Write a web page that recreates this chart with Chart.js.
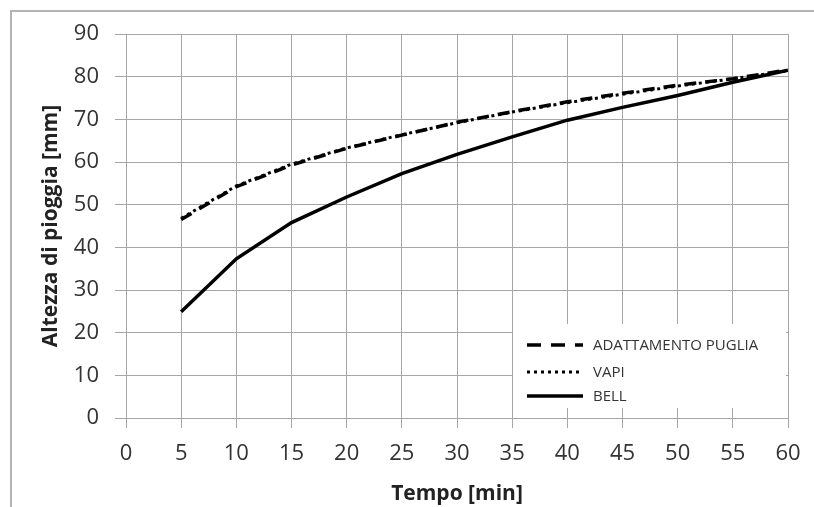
<head>
  <style>
    html, body { margin: 0; padding: 0; background: #fff; overflow: hidden; }
    #frame {
      position: absolute; left: 10px; top: 10px; width: 900px; height: 600px;
      border-left: 2px solid #b4b4b4; border-top: 2px solid #b4b4b4;
    }
    #chart { position: absolute; left: 0; top: 0; }
  </style>
</head>

<body>
  <div id="frame"></div>
  <canvas id="chart" width="814" height="507"></canvas>

  <script src="https://cdn.jsdelivr.net/npm/chart.js"></script>
  <script>
    // durate (min) e altezze di pioggia (mm)
    const tempi = [5, 10, 15, 20, 25, 30, 35, 40, 45, 50, 55, 60];
    const puglia = [46.5, 54.2, 59.3, 63.2, 66.3, 69.3, 71.8, 74.1, 76.1, 78.0, 79.5, 81.6];
    const vapi = [46.8, 54.4, 59.5, 63.3, 66.4, 69.2, 71.7, 73.9, 75.9, 77.8, 79.5, 81.4];
    const bell = [24.9, 37.3, 45.8, 51.8, 57.3, 61.8, 65.9, 69.8, 72.8, 75.6, 78.7, 81.5];
    const nomiSerie = ["ADATTAMENTO PUGLIA", "VAPI", "BELL"];
    const xTicks = [0, 5, 10, 15, 20, 25, 30, 35, 40, 45, 50, 55, 60];
    const yTicks = [0, 10, 20, 30, 40, 50, 60, 70, 80, 90];

    const toPoints = vals => tempi.map((t, i) => ({ x: t, y: vals[i] }));

    const gridGray = "#a6a6a6";
    const textGray = "#333";

    // legenda disegnata dentro l'area del grafico, in basso a destra
    const insideLegend = {
      id: "insideLegend",
      afterDatasetsDraw(chart) {
        const { ctx, chartArea } = chart;
        const boxL = chartArea.right - 275, boxT = chartArea.bottom - 94;
        ctx.save();
        ctx.fillStyle = "#fff";
        ctx.fillRect(boxL, boxT, 273, 84);
        const rows = [boxT + 21, boxT + 48, boxT + 72];
        chart.data.datasets.forEach((ds, i) => {
          ctx.strokeStyle = ds.borderColor;
          ctx.lineWidth = ds.borderWidth;
          ctx.setLineDash(ds.legendDash);
          ctx.lineCap = "butt";
          ctx.beginPath();
          ctx.moveTo(boxL + 14, rows[i]);
          ctx.lineTo(boxL + 70, rows[i]);
          ctx.stroke();
          ctx.setLineDash([]);
          ctx.fillStyle = textGray;
          ctx.font = "15px 'Open Sans'";
          ctx.textBaseline = "middle";
          ctx.fillText(ds.label, boxL + 80, rows[i] + 1);
        });
        ctx.restore();
      }
    };

    new Chart(document.getElementById("chart"), {
      type: "line",
      data: {
        datasets: [
          {
            label: nomiSerie[0], data: toPoints(puglia),
            borderColor: "#000", borderWidth: 3.5, borderDash: [12, 9],
            legendDash: [14, 10], pointRadius: 0, tension: 0
          },
          {
            label: nomiSerie[1], data: toPoints(vapi),
            borderColor: "#000", borderWidth: 3, borderDash: [3, 4],
            legendDash: [3, 4], pointRadius: 0, tension: 0
          },
          {
            label: nomiSerie[2], data: toPoints(bell),
            borderColor: "#000", borderWidth: 3.5,
            legendDash: [], pointRadius: 0, tension: 0
          }
        ]
      },
      options: {
        responsive: false,
        animation: false,
        layout: { padding: { left: 0, top: 34, right: 26, bottom: 0 } },
        plugins: { legend: { display: false }, tooltip: { enabled: false } },
        scales: {
          x: {
            type: "linear", min: 0, max: 60,
            afterBuildTicks: s => { s.ticks = xTicks.map(v => ({ value: v })); },
            afterFit: s => { s.height = 89; },
            grid: { color: gridGray, tickLength: 10 },
            border: { color: gridGray },
            ticks: { color: textGray, padding: 13, maxRotation: 0, font: { family: "Open Sans", size: 22 } },
            title: {
              display: true, text: "Tempo [min]", color: "#222",
              padding: { top: 0, bottom: 0 },
              font: { family: "Open Sans", size: 21, weight: "bold" }
            }
          },
          y: {
            min: 0, max: 90,
            afterBuildTicks: s => { s.ticks = yTicks.map(v => ({ value: v })); },
            afterFit: s => { s.width = 126; },
            grid: { color: gridGray, tickLength: 11 },
            border: { color: gridGray },
            ticks: { color: textGray, padding: 16, font: { family: "Open Sans", size: 22 } },
            title: {
              display: true, text: "Altezza di pioggia [mm]", color: "#222",
              padding: { top: 38, bottom: 0 },
              font: { family: "Open Sans", size: 21, weight: "bold" }
            }
          }
        }
      },
      plugins: [insideLegend]
    });
  </script>
</body>

</html>
